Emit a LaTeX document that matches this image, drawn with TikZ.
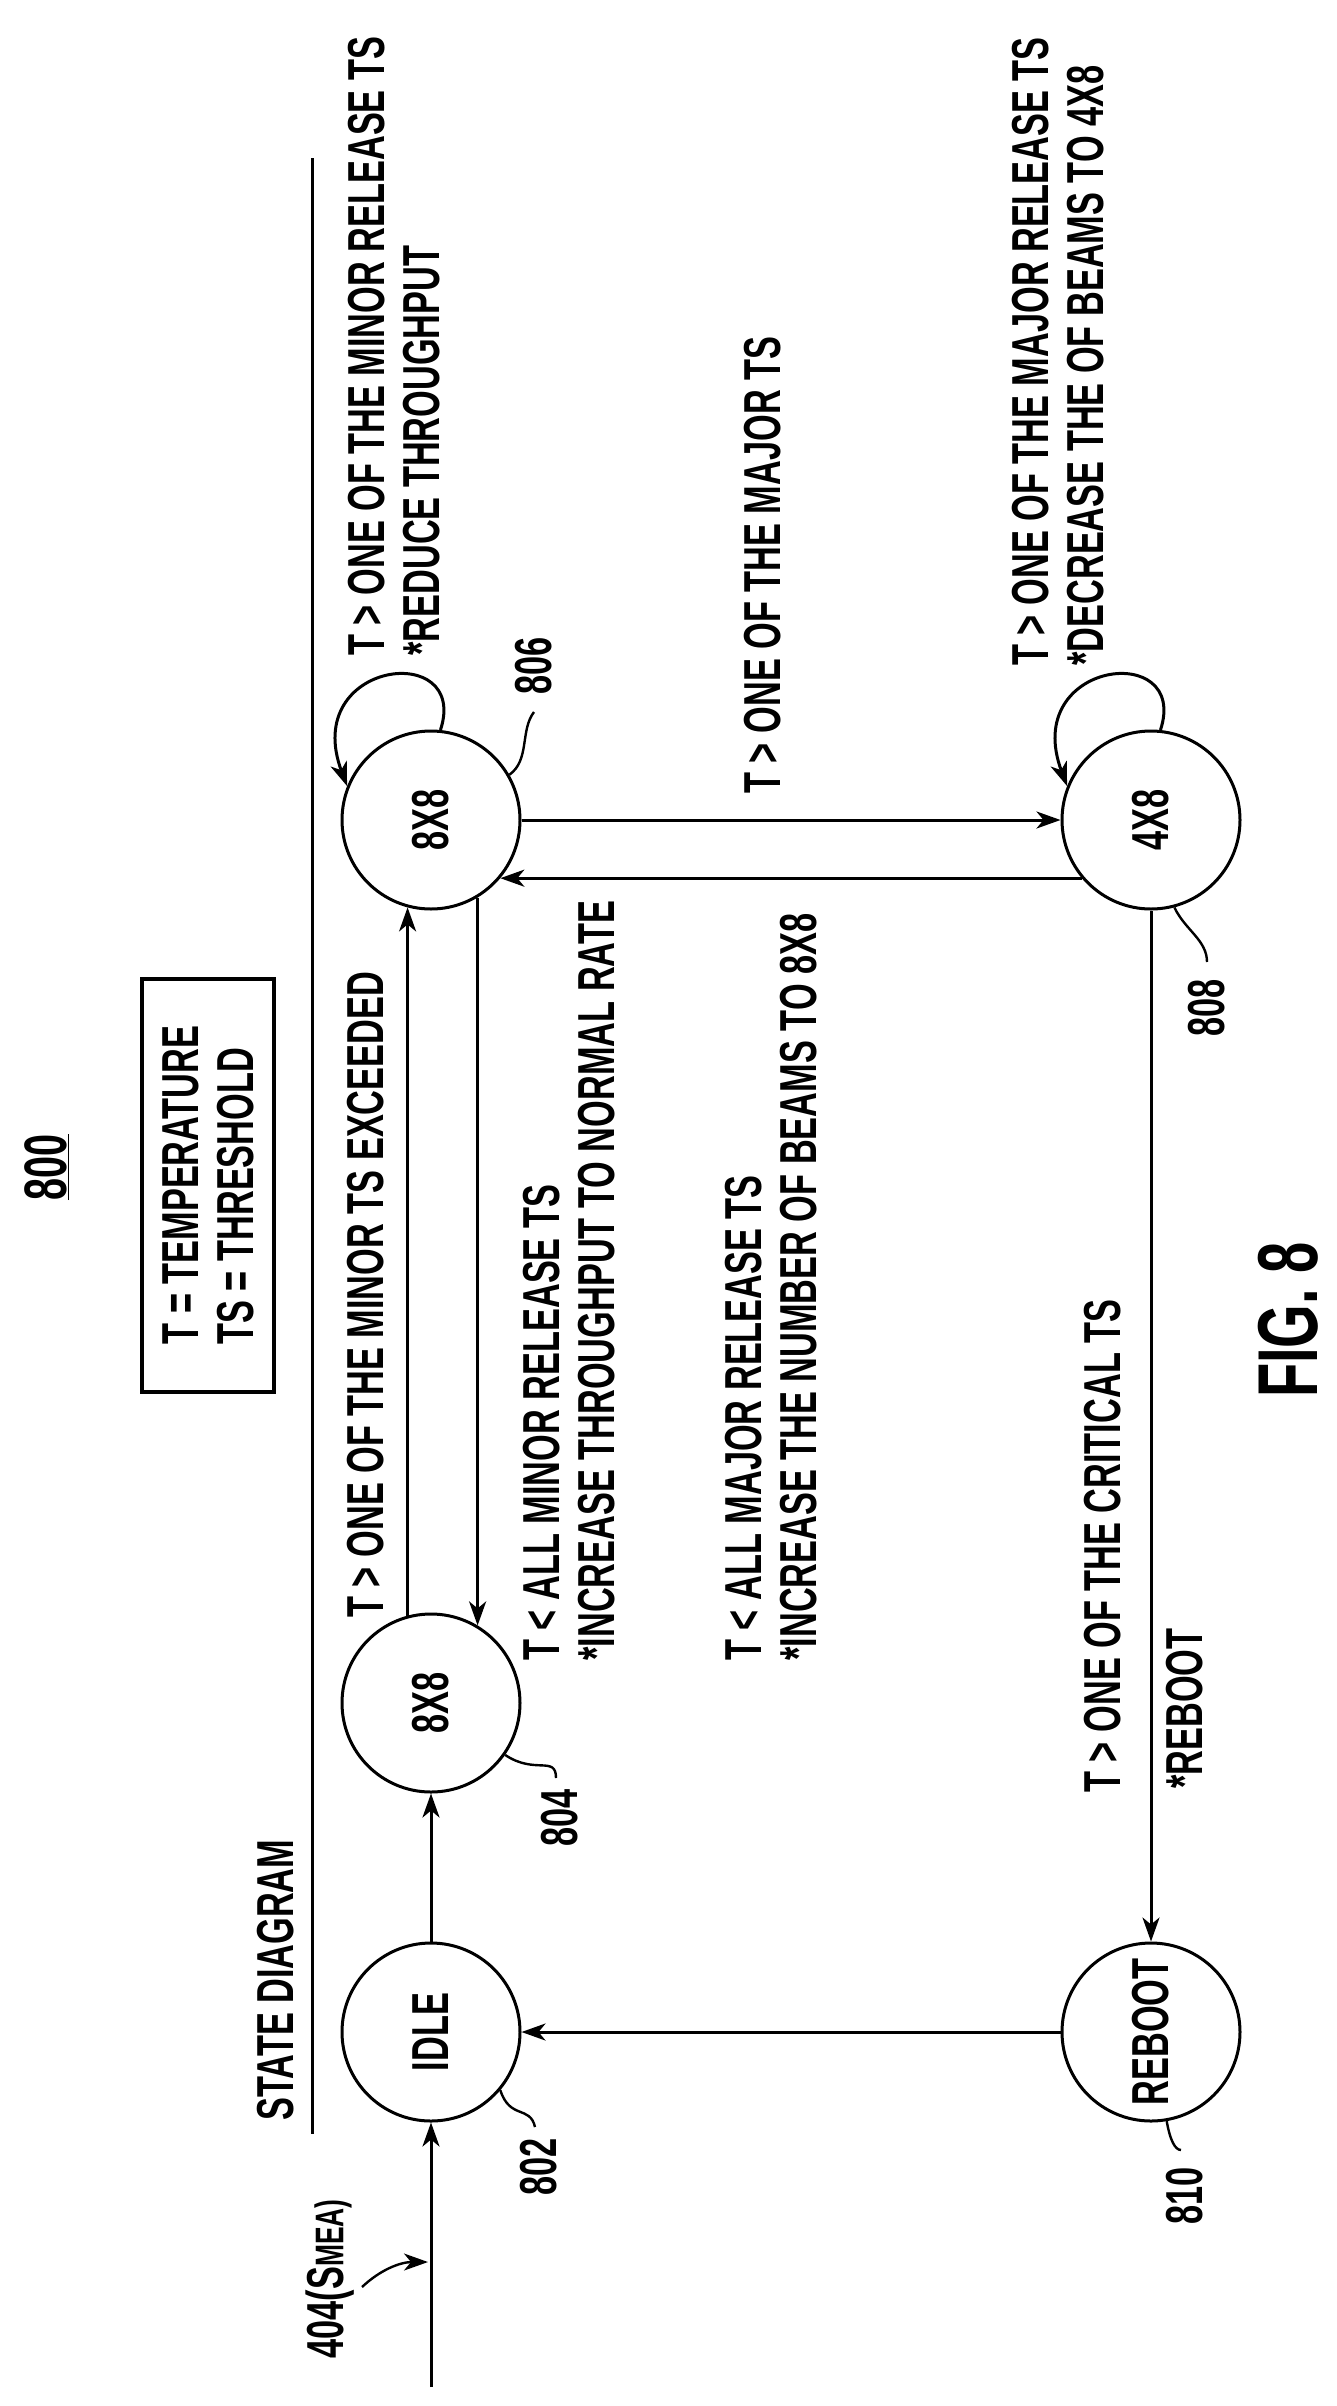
\documentclass[tikz,border=0pt]{standalone}
\usepackage{fontspec}
\setmainfont{Liberation Sans}[FakeStretch=0.66]
\usetikzlibrary{arrows.meta}
\begin{document}
\begin{tikzpicture}[x=1pt,y=-1pt,line width=3pt,
  >={Stealth[length=24pt,width=17pt,inset=7pt]},
  every node/.style={font=\fontsize{52}{55}\selectfont\bfseries},
  state/.style={circle,draw,minimum size=178pt,inner sep=0pt},
  lbl/.style={rotate=90,align=left,inner sep=0pt}]
\useasboundingbox (0,0) rectangle (1336,2406);
\node[state] (idle) at (431,2032) {\rotatebox{90}{IDLE}};
\node[state] (s804) at (431,1703) {\rotatebox{90}{8X8}};
\node[state] (s806) at (431,820) {\rotatebox{90}{8X8}};
\node[state] (s808) at (1151,820) {\rotatebox{90}{4X8}};
\node[state] (s810) at (1151,2032) {\rotatebox{90}{REBOOT}};
\coordinate (in) at (431,2387);
\coordinate (top) at (312,158);
\coordinate (bot) at (312,2134);
\draw (top) -- (bot);
\draw[->] (in) -- (idle.south);
\draw[->] (idle.north) -- (s804.south);
\draw[->] (s804.105) -- (s806.255);
\draw[->] (s806.-59.6) -- (s804.59.6);
\draw[->] (s806.east) -- (s808.west);
\draw[->] (s808.220.7) -- (s806.-40.7);
\draw[->] (s808.south) -- (s810.north);
\draw[->] (s810.west) -- (idle.east);
\draw[->] (s806.84) .. controls (470,640) and (300,660) .. (s806.158);
\draw[->] (s808.84) .. controls (1190,640) and (1020,660) .. (s808.158);
% reference numerals
\coordinate (c802) at (535,2127);
\coordinate (c804) at (556,1778);
\coordinate (c806) at (534,712);
\coordinate (c808) at (1207,962);
\coordinate (c810) at (1181,2150);
\draw[line width=2.4pt] (idle.-40) .. controls (510,2120) and (530,2105) .. (c802);
\draw[line width=2.4pt] (s804.-35) .. controls (535,1775) and (556,1755) .. (c804);
\draw[line width=2.4pt] (s806.30) .. controls (530,760) and (520,730) .. (c806);
\draw[line width=2.4pt] (s808.-75) .. controls (1185,930) and (1207,940) .. (c808);
\draw[line width=2.4pt] (s810.-80) .. controls (1170,2140) and (1175,2150) .. (c810);
\node[lbl,anchor=east] (n802) at (539,2137) {802};
\node[lbl,anchor=east] (n804) at (560,1788) {804};
\node[lbl,anchor=west] (n806) at (534,696) {806};
\node[lbl,anchor=east] (n808) at (1207,978) {808};
\node[lbl,anchor=east] (n810) at (1185,2166) {810};
\node[lbl,anchor=east] (n404) at (330,2198) {404(S\fontsize{40}{44}\selectfont MEA)};
\coordinate (p404) at (428,2262);
\draw[->,line width=2.4pt] (362,2287) .. controls (380,2270) and (400,2262) .. (p404);
% titles
\node[lbl,anchor=west] (title) at (276,2122) {STATE DIAGRAM};
\node[lbl,font=\fontsize{60}{60}\selectfont\bfseries] (n800) at (47,1167) {\underline{800}};
\node[lbl,draw,anchor=center,minimum width=413pt,minimum height=132pt,inner sep=6pt,line width=4pt] (legend) at (208,1185) {T = TEMPERATURE\\TS = THRESHOLD};
\node[lbl,font=\fontsize{85}{85}\selectfont\bfseries] (fig) at (1288,1320) {FIG. 8};
% transition texts
\node[lbl,anchor=west] (t1) at (394,657) {T > ONE OF THE MINOR RELEASE TS\\*REDUCE THROUGHPUT};
\node[lbl,anchor=west] (t2) at (366,1619) {T > ONE OF THE MINOR TS EXCEEDED};
\node[lbl,anchor=west] (t3) at (569,1662) {T < ALL MINOR RELEASE TS\\*INCREASE THROUGHPUT TO NORMAL RATE};
\node[lbl,anchor=west] (t4) at (763,795) {T > ONE OF THE MAJOR TS};
\node[lbl,anchor=west] (t5) at (771,1662) {T < ALL MAJOR RELEASE TS\\*INCREASE THE NUMBER OF BEAMS TO 8X8};
\node[lbl,anchor=west] (t6) at (1058,667) {T > ONE OF THE MAJOR RELEASE TS\\*DECREASE THE OF BEAMS TO 4X8};
\node[lbl,anchor=west] (t7) at (1103,1794) {T > ONE OF THE CRITICAL TS};
\node[lbl,anchor=west] (t8) at (1185,1790) {*REBOOT};
\end{tikzpicture}
\end{document}
